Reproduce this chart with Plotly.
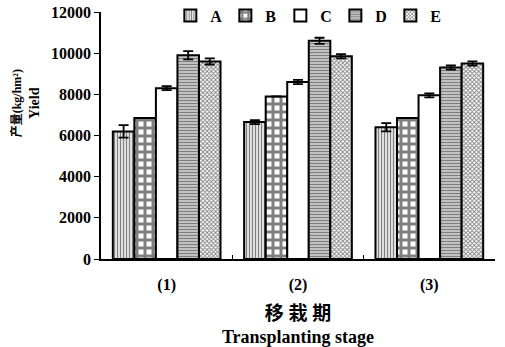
import plotly.graph_objects as go

# Yield (kg/hm²) per transplanting stage and treatment
stages = ["(1)", "(2)", "(3)"]
treatments = ["A", "B", "C", "D", "E"]
yield_A = [6200, 6650, 6400]
yield_B = [6850, 7900, 6850]
yield_C = [8300, 8600, 7950]
yield_D = [9900, 10600, 9300]
yield_E = [9600, 9850, 9500]
err_A = [300, 100, 200]
err_B = [0, 0, 0]
err_C = [100, 100, 100]
err_D = [200, 150, 100]
err_E = [150, 100, 100]
y_ticks = [0, 2000, 4000, 6000, 8000, 10000, 12000]

values = [yield_A, yield_B, yield_C, yield_D, yield_E]
errors = [err_A, err_B, err_C, err_D, err_E]

patterns = [
    dict(shape="|", fgcolor="black", bgcolor="white", size=3, solidity=0.5),
    dict(shape="+", fgcolor="black", bgcolor="white", size=8, solidity=0.6),
    dict(shape="", fgcolor="black", bgcolor="white"),
    dict(shape="-", fgcolor="black", bgcolor="white", size=3, solidity=0.65),
    dict(shape="x", fgcolor="black", bgcolor="white", size=3, solidity=0.5),
]

FONT = "Liberation Serif, Noto Sans CJK SC, serif"

fig = go.Figure()
for name, vals, errs, pat in zip(treatments, values, errors, patterns):
    fig.add_trace(go.Bar(
        name="<b>%s</b>" % name, x=stages, y=vals,
        marker=dict(color="white", pattern=pat,
                    line=dict(color="black", width=2)),
        error_y=dict(type="data", array=errs, visible=True,
                     color="black", thickness=1.8, width=5),
    ))

fig.update_layout(
    width=505, height=347,
    margin=dict(l=101, r=10, t=12, b=88, autoexpand=False),
    paper_bgcolor="white", plot_bgcolor="white",
    barmode="group", bargap=0.18, bargroupgap=0,
    font=dict(family=FONT, color="black", size=16),
    showlegend=True,
    legend=dict(orientation="h", x=0.525, xanchor="center",
                y=0.985, yanchor="middle",
                font=dict(family=FONT, size=16, color="black"),
                itemwidth=30, entrywidth=10, entrywidthmode="pixels",
                tracegroupgap=0, bgcolor="rgba(0,0,0,0)"),
)

# Two-line y title beside the axis, slightly above its middle
fig.add_annotation(
    text="<b><span style='font-size:12px'>产量(kg/hm²)</span><br>Yield</b>",
    textangle=-90, align="center",
    xref="paper", yref="paper", x=-0.193, y=0.63,
    xanchor="center", yanchor="middle",
    showarrow=False, font=dict(family=FONT, size=14))

fig.update_yaxes(
    range=[0, 12000], tickvals=y_ticks,
    ticktext=["<b>%d</b>" % v for v in y_ticks],
    tickfont=dict(family=FONT, size=16),
    showline=True, linecolor="black", linewidth=1.5,
    ticks="outside", ticklen=5, tickcolor="black",
    showgrid=False, zeroline=False,
)
fig.update_xaxes(
    ticktext=["<b>%s</b>" % s for s in stages], tickvals=stages,
    tickfont=dict(family=FONT, size=16),
    ticklabelstandoff=10,
    showline=True, linecolor="black", linewidth=1.5,
    ticks="inside", tickson="boundaries", ticklen=4, tickcolor="black",
    showgrid=False,
    title=dict(text="<b><span style='font-size:19px'>移 栽 期</span><br>Transplanting stage</b>",
               standoff=22, font=dict(family=FONT, size=18)),
)

fig.write_html("out.html")
